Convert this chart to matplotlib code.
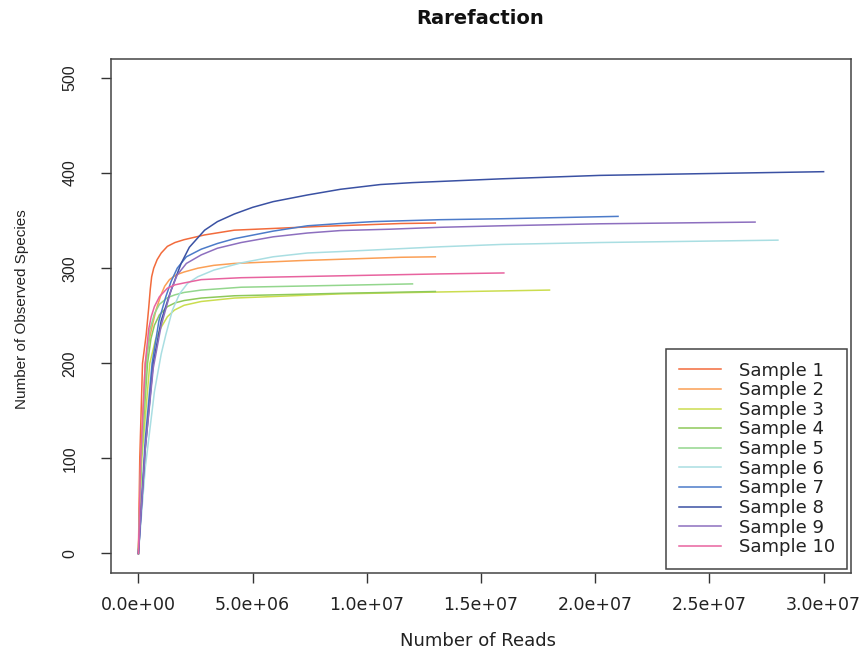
import matplotlib

matplotlib.use("Agg")
import matplotlib.pyplot as plt

# rarefaction curves: reads (millions) and observed species
s1_reads = [0, 0.06, 0.18, 0.34, 0.45, 0.52, 0.58, 0.67, 0.82, 1.0, 1.27, 1.6, 2.0, 2.9, 4.2, 8.0, 11.5, 13.0]
s1_species = [0, 100, 200, 230, 258, 278, 291, 300, 309, 316, 323, 327, 330, 335, 340, 344, 347, 347.5]
s2_reads = [0, 0.1, 0.3, 0.5, 0.63, 0.77, 0.99, 1.15, 1.36, 1.65, 2.0, 2.6, 3.3, 4.2, 7.1, 11.5, 13.0]
s2_species = [0, 100, 200, 228, 242, 256, 272, 281, 288, 293, 296, 300, 303, 305, 308, 311.5, 312]
s3_reads = [0, 0.15, 0.5, 0.75, 1.0, 1.27, 1.58, 2.0, 2.75, 4.2, 8.85, 13.2, 18.0]
s3_species = [0, 100, 200, 225, 238, 249, 256, 261, 265, 268.6, 273, 275, 277]
s4_reads = [0, 0.12, 0.4, 0.55, 0.7, 0.92, 1.27, 1.6, 2.0, 2.75, 4.2, 8.85, 13.0]
s4_species = [0, 100, 200, 226, 240, 251, 259.6, 263.5, 266, 268.6, 271, 273.6, 275.5]
s5_reads = [0, 0.12, 0.35, 0.5, 0.7, 0.92, 1.27, 1.6, 2.0, 2.75, 4.5, 8.85, 12.0]
s5_species = [0, 100, 200, 235, 252, 262, 269, 272, 274.5, 277, 280, 282, 283.5]
s6_reads = [0, 0.3, 0.7, 1.0, 1.2, 1.49, 1.8, 2.15, 2.6, 3.3, 4.5, 5.9, 7.4, 8.85, 11.0, 13.2, 15.9, 20.2, 24.6, 28.0]
s6_species = [0, 90, 170, 210, 230, 256, 273, 284, 291, 298, 305.6, 312, 316, 317.5, 320, 322.5, 325, 327, 328.4, 329.5]
s7_reads = [0, 0.3, 0.6, 0.9, 1.2, 1.43, 1.7, 2.1, 2.75, 3.46, 4.2, 5.9, 7.4, 8.85, 10.3, 13.2, 15.9, 21.0]
s7_species = [0, 120, 200, 245, 270, 286, 300, 312, 320, 326, 331, 339, 344.6, 347, 349, 351, 352, 354.5]
s8_reads = [0, 0.3, 0.65, 1.0, 1.36, 1.65, 1.87, 2.23, 2.9, 3.46, 4.2, 5.0, 5.9, 7.4, 8.85, 10.6, 12.0, 15.9, 20.2, 24.6, 30.0]
s8_species = [0, 110, 200, 245, 272, 291, 305, 322, 340, 349, 357, 364, 370, 377, 383, 388, 390, 394, 397.6, 399.4, 401.5]
s9_reads = [0, 0.3, 0.65, 1.0, 1.43, 1.7, 2.1, 2.75, 3.46, 4.5, 5.9, 7.4, 8.85, 11.0, 13.2, 15.9, 20.2, 27.0]
s9_species = [0, 110, 195, 240, 277, 293, 305, 314, 321, 327, 333, 337, 339.6, 341, 343, 344.6, 346.7, 348.5]
s10_reads = [0, 0.1, 0.3, 0.45, 0.56, 0.7, 0.92, 1.27, 1.6, 2.0, 2.75, 4.5, 8.85, 13.2, 16.0]
s10_species = [0, 100, 200, 236, 249, 259.6, 270, 279, 282.5, 284.5, 288, 290, 292, 294, 295]

labels = [f"Sample {i}" for i in range(1, 11)]
reads = [s1_reads, s2_reads, s3_reads, s4_reads, s5_reads,
         s6_reads, s7_reads, s8_reads, s9_reads, s10_reads]
species = [s1_species, s2_species, s3_species, s4_species, s5_species,
           s6_species, s7_species, s8_species, s9_species, s10_species]
colors = ["#f26b3c", "#fb9f55", "#cbdd4f", "#8ec95a", "#93d68d",
          "#a9dee2", "#4c7bc9", "#3a51a3", "#8d6fbf", "#e8639f"]
x_ticks = [0, 5e6, 1e7, 1.5e7, 2e7, 2.5e7, 3e7]
y_ticks = [0, 100, 200, 300, 400, 500]

plt.rcParams["font.family"] = ["DejaVu Sans"]

fig = plt.figure(figsize=(8.62, 6.52), dpi=100)
ax = fig.add_axes([111 / 862, 1 - 572.5 / 652, 740 / 862, 513.5 / 652])

for x, y, color, label in zip(reads, species, colors, labels):
    ax.plot([v * 1e6 for v in x], y, color=color, linewidth=1.1, label=label)

ax.set_xlim(-1.2e6, 3.12e7)
ax.set_ylim(-20, 520)
ax.set_xticks(x_ticks)
ax.set_xticklabels(["%.1e" % v for v in x_ticks], fontsize=12.5)
ax.set_yticks(y_ticks)
ax.set_yticklabels([str(v) for v in y_ticks], rotation=90, va="center",
                   fontsize=11.5, family="Liberation Sans")
ax.tick_params(axis="both", length=7, width=1.0, color="#333333",
               labelcolor="#222222")
ax.tick_params(axis="x", pad=10)
ax.tick_params(axis="y", pad=17)
for spine in ax.spines.values():
    spine.set_color("#444444")
    spine.set_linewidth(1.1)

fig.text(480 / 862, 1 - 18 / 652, "Rarefaction", ha="center", va="center",
         fontsize=14, fontweight="bold", color="#111111")
fig.text(478 / 862, 1 - 641 / 652, "Number of Reads", ha="center", va="center",
         fontsize=13, color="#222222")
fig.text(22 / 862, 1 - 309 / 652, "Number of Observed Species", ha="center",
         va="center", rotation=90, fontsize=11, family="Liberation Sans",
         color="#222222")

leg = ax.legend(loc="lower right", fontsize=13, frameon=True, fancybox=False,
                framealpha=1, edgecolor="#444444", handlelength=2.3,
                handletextpad=1.0, labelspacing=0.09, borderaxespad=0.2,
                borderpad=0.7)
leg.get_frame().set_linewidth(1.1)
for t in leg.get_texts():
    t.set_color("#222222")

fig.savefig("out.png", dpi=100)
